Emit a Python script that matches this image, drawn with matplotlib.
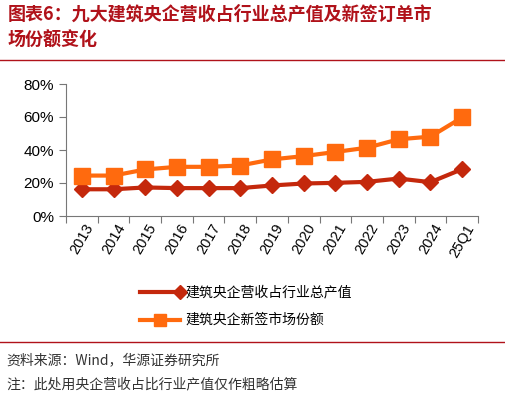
import matplotlib
matplotlib.use("Agg")
import matplotlib.pyplot as plt
from matplotlib.lines import Line2D

plt.rcParams['font.family'] = ['Noto Sans CJK SC', 'DejaVu Sans']

categories = ['2013','2014','2015','2016','2017','2018','2019','2020','2021','2022','2023','2024','25Q1']
central_output = [16.2,16.2,17.3,16.9,16.9,16.9,18.5,19.7,20.1,20.7,22.7,20.5,28.4]
central_contracts = [24.5,24.5,28.2,29.8,29.8,30.6,34.3,36.3,38.8,41.4,46.5,48.1,59.7]
yticks = [0,20,40,60,80]

W, H = 506, 408
fig = plt.figure(figsize=(W/100, H/100), dpi=100)
ax = fig.add_axes([66/W, 1-216/H, (478-66)/W, (216-84)/H])
x = range(len(categories))
c1, c2 = '#c4280c', '#ff6a0e'
ax.plot(x, central_output, color=c1, lw=3, marker='D', ms=8)
ax.plot(x, central_contracts, color=c2, lw=3, marker='s', ms=11)
ax.set_xlim(-0.5, len(categories)-0.5)
ax.set_ylim(0, 80)
ax.set_yticks(yticks)
ax.set_yticklabels([f'{v}%' for v in yticks], fontsize=11, family='Liberation Sans')
ax.set_xticks([i-0.5 for i in range(len(categories)+1)], minor=False)
ax.set_xticklabels([])
ax.set_xticks(list(x), minor=True)
ax.set_xticklabels(categories, minor=True, rotation=60, fontsize=10.5, family='Liberation Sans', ha='center', va='top')
ax.tick_params(axis='x', which='minor', length=0, pad=4)
ax.tick_params(axis='x', which='major', length=5, direction='out', color='#777')
ax.tick_params(axis='y', length=5, direction='out', color='#777')
for s in ['top','right']:
    ax.spines[s].set_visible(False)
for s in ['left','bottom']:
    ax.spines[s].set_color('#777')

fig.text(8/W, 1-14/H, '图表6：九大建筑央企营收占行业总产值及新签订单市', fontsize=13, weight='bold', color='#b0121a', va='center')
fig.text(8/W, 1-40/H, '场份额变化', fontsize=13, weight='bold', color='#b0121a', va='center')
fig.add_artist(Line2D([0,1],[1-60/H,1-60/H], color='#b0121a', lw=1))

fig.add_artist(Line2D([140/W,180/W],[1-292/H]*2, color=c1, lw=3, marker='D', ms=7, markevery=[1], transform=fig.transFigure))
fig.text(185/W, 1-292/H, '建筑央企营收占行业总产值', fontsize=10, va='center')
fig.add_artist(Line2D([140/W,180/W],[1-320/H]*2, color=c2, lw=3))
fig.add_artist(Line2D([160/W],[1-320/H], color=c2, marker='s', ms=9, transform=fig.transFigure))
fig.text(185/W, 1-320/H, '建筑央企新签市场份额', fontsize=10, va='center')

fig.add_artist(Line2D([0,1],[1-342/H]*2, color='#b0121a', lw=1))
fig.text(6/W, 1-360/H, '资料来源：Wind，华源证券研究所', fontsize=10, va='center', color='#333')
fig.text(6/W, 1-384/H, '注：此处用央企营收占比行业产值仅作粗略估算', fontsize=10, va='center', color='#333')
fig.savefig('out.png', dpi=100)
